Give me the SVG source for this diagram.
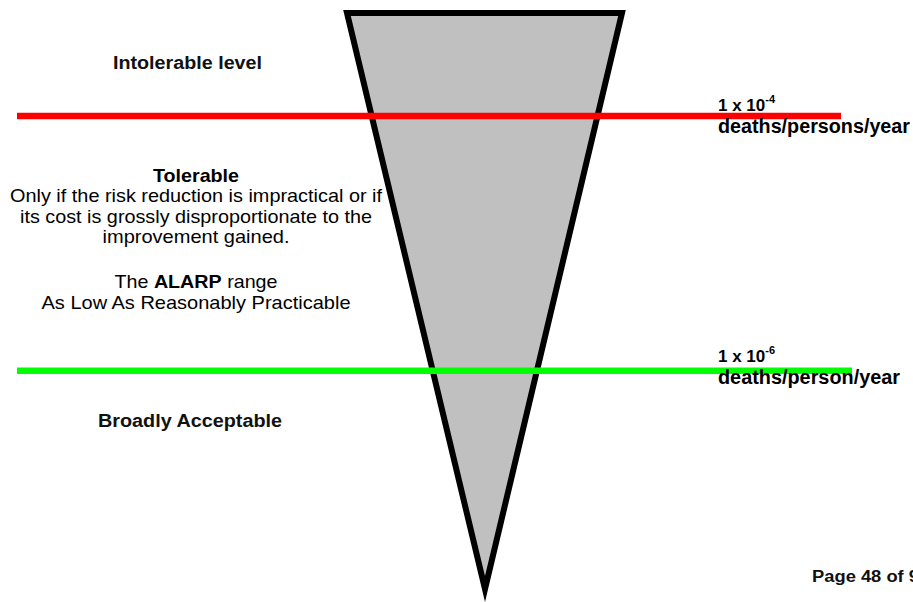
<svg xmlns="http://www.w3.org/2000/svg" width="913" height="602" viewBox="0 0 913 602">
<style>
.t{font-family:"Liberation Sans",Arial,sans-serif;fill:#000}
.b{font-weight:bold}
.g{font-family:"Liberation Sans",Arial,sans-serif;font-weight:bold;fill:#111}
</style>
<rect width="913" height="602" fill="#fff"/>
<g id="triangle">
<polygon points="347,13 622,13 485,589" fill="#c0c0c0" stroke="#000" stroke-width="6" stroke-linejoin="miter" stroke-miterlimit="10"/>
</g>
<g id="lines">
<line x1="17" y1="116" x2="841" y2="116" stroke="#ff0000" stroke-width="6.5"/>
<line x1="17" y1="370.7" x2="852" y2="370.7" stroke="#00ff00" stroke-width="6.5"/>
</g>
<g id="intolerable">
<text class="g" x="113" y="69" font-size="18" textLength="149" lengthAdjust="spacingAndGlyphs">Intolerable level</text>
</g>
<g id="tolerable" text-anchor="middle">
<text class="t b" x="196" y="182" font-size="18.5" textLength="86" lengthAdjust="spacingAndGlyphs">Tolerable</text>
<text class="t" x="196" y="201.7" font-size="18.5" textLength="372" lengthAdjust="spacingAndGlyphs">Only if the risk reduction is impractical or if</text>
<text class="t" x="196" y="222.7" font-size="18.5" textLength="352" lengthAdjust="spacingAndGlyphs">its cost is grossly disproportionate to the</text>
<text class="t" x="196" y="243.3" font-size="18.5" textLength="187" lengthAdjust="spacingAndGlyphs">improvement gained.</text>
<text class="t" x="196" y="288.3" font-size="18.5" textLength="163" lengthAdjust="spacingAndGlyphs">The <tspan class="b">ALARP</tspan> range</text>
<text class="t" x="196" y="309" font-size="18.5" textLength="309" lengthAdjust="spacingAndGlyphs">As Low As Reasonably Practicable</text>
</g>
<g id="broadly">
<text class="g" x="98" y="426.7" font-size="18" textLength="184" lengthAdjust="spacingAndGlyphs">Broadly Acceptable</text>
</g>
<g id="upper-limit">
<text class="t b" x="718" y="111" font-size="17">1 x 10<tspan font-size="11" dy="-8">-4</tspan></text>
<text class="t b" x="718" y="133.3" font-size="19.5" textLength="192" lengthAdjust="spacingAndGlyphs">deaths/persons/year</text>
</g>
<g id="lower-limit">
<text class="t b" x="718" y="361.7" font-size="17">1 x 10<tspan font-size="11" dy="-8">-6</tspan></text>
<text class="t b" x="718" y="384.3" font-size="19.5" textLength="182" lengthAdjust="spacingAndGlyphs">deaths/person/year</text>
</g>
<g id="page">
<text class="g" x="812" y="582" font-size="16" textLength="107" lengthAdjust="spacingAndGlyphs">Page 48 of 9</text>
</g>
</svg>
